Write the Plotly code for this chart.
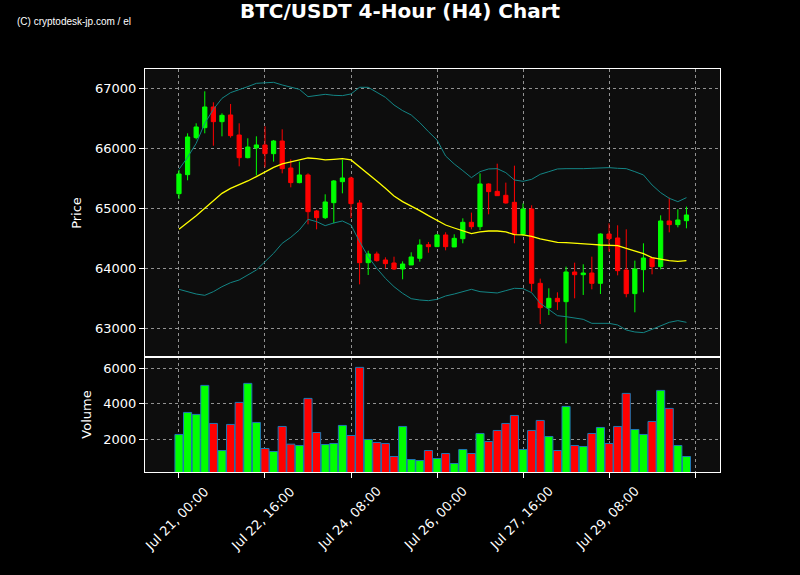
import plotly.graph_objects as go

idx = list(range(60))
opens = [65244, 65561, 66178, 66344, 66689, 66444, 66556, 66222, 65844, 66006,
         66056, 65911, 66122, 65672, 65428, 65556, 64956, 64844, 65094, 65444,
         65506, 65089, 64094, 64239, 64139, 64089, 63989, 64056, 64167, 64394,
         64361, 64556, 64356, 64494, 64767, 64694, 65406, 65283, 65217, 65100,
         64567, 64989, 63750, 63344, 63500, 63444, 63939, 63894, 63922, 63750,
         64572, 64506, 63972, 63578, 63978, 64172, 64028, 64789, 64728, 64794]
highs = [65639, 66250, 66417, 66950, 66767, 66583, 66739, 66417, 66167, 66200,
         66367, 66139, 66317, 65817, 65778, 65583, 64972, 65233, 65472, 65806,
         65528, 65139, 64294, 64278, 64183, 64194, 64117, 64267, 64483, 64439,
         64567, 64600, 64567, 64833, 64928, 65583, 65417, 65744, 65428, 65711,
         65083, 65050, 63828, 63667, 63600, 64028, 64094, 64067, 64194, 64583,
         64750, 64717, 64650, 64128, 64417, 64183, 64883, 65178, 64983, 65028]
lows = [65156, 65467, 66150, 66250, 66044, 66200, 66178, 65700, 65833, 65550,
        65683, 65778, 65583, 65350, 65417, 64733, 64650, 64822, 64750, 65250,
        64839, 63733, 63889, 64111, 64000, 63972, 63817, 64056, 64111, 64261,
        64361, 64300, 64356, 64417, 64650, 64639, 64900, 65206, 65078, 64417,
        64539, 63611, 63072, 63222, 63306, 62750, 63500, 63556, 63650, 63572,
        64278, 63883, 63517, 63267, 63600, 63900, 63983, 64600, 64683, 64667]
closes = [65572, 66189, 66356, 66689, 66444, 66550, 66211, 65844, 66022, 66056,
          65911, 66122, 65661, 65428, 65556, 64944, 64844, 65106, 65456, 65506,
          65078, 64094, 64239, 64128, 64078, 63989, 64072, 64189, 64389, 64361,
          64556, 64361, 64500, 64767, 64694, 65406, 65278, 65211, 65089, 64567,
          64989, 63750, 63344, 63500, 63444, 63939, 63894, 63922, 63750, 64572,
          64494, 63961, 63578, 63989, 64172, 64028, 64789, 64728, 64806, 64889]
volumes = [2282, 3521, 3409, 5042, 2901, 1380, 2845, 4085, 5155, 2958,
           1493, 1324, 2732, 1737, 1662, 4310, 2394, 1718, 1775, 2789,
           2225, 6056, 2000, 1831, 1775, 1042, 2732, 873, 817, 1380,
           930, 1211, 648, 1437, 1211, 2338, 1887, 2507, 2901, 3352,
           1437, 2507, 3070, 2169, 1380, 3859, 1662, 1606, 2338, 2676,
           1775, 2732, 4592, 2563, 2282, 3014, 4761, 3747, 1662, 1042]
ma20 = [64650, 64761, 64878, 65000, 65128, 65250, 65333, 65389, 65456, 65528,
        65600, 65683, 65739, 65772, 65806, 65839, 65828, 65806, 65817, 65828,
        65806, 65694, 65583, 65456, 65333, 65206, 65111, 65039, 64961, 64878,
        64806, 64722, 64672, 64622, 64578, 64606, 64622, 64622, 64606, 64561,
        64556, 64533, 64489, 64461, 64433, 64428, 64422, 64411, 64400, 64389,
        64383, 64378, 64333, 64294, 64244, 64178, 64150, 64128, 64117, 64128]
bb_upper = [65650, 65850, 66083, 66417, 66650, 66833, 66928, 66972, 67028, 67083,
            67094, 67100, 67056, 67017, 66983, 66861, 66878, 66900, 66883, 66878,
            66906, 67017, 67017, 66928, 66850, 66722, 66628, 66556, 66428, 66278,
            66139, 65872, 65739, 65628, 65511, 65611, 65656, 65661, 65594, 65472,
            65450, 65483, 65567, 65611, 65656, 65661, 65656, 65661, 65667, 65678,
            65678, 65667, 65661, 65611, 65556, 65389, 65261, 65167, 65111, 65178]
bb_lower = [63650, 63611, 63572, 63550, 63611, 63694, 63761, 63806, 63889, 63972,
            64111, 64250, 64417, 64517, 64639, 64817, 64778, 64711, 64756, 64789,
            64722, 64444, 64194, 64000, 63833, 63694, 63583, 63494, 63472, 63461,
            63483, 63539, 63572, 63611, 63650, 63611, 63594, 63589, 63628, 63667,
            63661, 63594, 63417, 63317, 63211, 63194, 63178, 63150, 63083, 63089,
            63083, 63056, 62972, 62939, 62928, 62983, 63044, 63100, 63128, 63100]
tick_pos = [0, 10, 20, 30, 40, 50, 60]
tick_labels = ["Jul 21, 00:00", "Jul 22, 16:00", "Jul 24, 08:00", "Jul 26, 00:00",
               "Jul 27, 16:00", "Jul 29, 08:00", ""]
price_ticks = [63000, 64000, 65000, 66000, 67000]
volume_ticks = [2000, 4000, 6000]

UP = "#00ff00"
DOWN = "#ff0000"
vol_colors = [UP if c >= o else DOWN for o, c in zip(opens, closes)]

fig = go.Figure()
fig.add_trace(go.Scatter(x=idx, y=bb_upper, mode="lines", line=dict(color="#138585", width=1),
                         xaxis="x2", yaxis="y2", hoverinfo="skip"))
fig.add_trace(go.Scatter(x=idx, y=bb_lower, mode="lines", line=dict(color="#138585", width=1),
                         xaxis="x2", yaxis="y2", hoverinfo="skip"))
fig.add_trace(go.Scatter(x=idx, y=ma20, mode="lines", line=dict(color="#ffff00", width=1.3),
                         xaxis="x2", yaxis="y2", hoverinfo="skip"))
fig.add_trace(go.Candlestick(
    x=idx, open=opens, high=highs, low=lows, close=closes,
    increasing=dict(line=dict(color=UP, width=1), fillcolor=UP),
    decreasing=dict(line=dict(color=DOWN, width=1), fillcolor=DOWN),
    whiskerwidth=0, xaxis="x2", yaxis="y2"))
fig.add_trace(go.Bar(x=idx, y=volumes, marker=dict(color=vol_colors, line=dict(color="#1f77b4", width=1)),
                     xaxis="x", yaxis="y"))

grid = dict(showgrid=True, gridcolor="rgba(190,190,190,0.75)", griddash="dot", gridwidth=1)
axline = dict(showline=True, linecolor="white", linewidth=1, mirror=True, zeroline=False)
tickfont = dict(family="DejaVu Sans", size=13, color="white")
xr = [-3.95, 62.9]
split = (472 - 357) / (472 - 69)

annotations = [dict(text="(C) cryptodesk-jp.com / el", xref="paper", yref="paper",
                    x=(15 - 145) / 575, y=1 + (69 - 22) / 403, xanchor="left", yanchor="middle",
                    showarrow=False,
                    font=dict(family="Liberation Sans", size=10, color="white"))]
for pos, lab in zip(tick_pos, tick_labels):
    if lab:
        annotations.append(dict(text=lab, x=pos, xref="x", y=0, yref="paper", xanchor="center",
                                yanchor="top", textangle=-45, showarrow=False, yshift=-9, xshift=-2,
                                font=tickfont))

fig.update_layout(
    width=800, height=575,
    paper_bgcolor="black", plot_bgcolor="#0d0d0d",
    margin=dict(l=145, r=80, t=69, b=103),
    showlegend=False,
    boxgap=0.3,
    bargap=0.06,
    title=dict(text="<b>BTC/USDT 4-Hour (H4) Chart</b>", x=0.5, xanchor="center",
               y=1 - 11 / 575, yanchor="middle",
               font=dict(family="DejaVu Sans", size=20, color="white")),
    xaxis=dict(domain=[0, 1], anchor="y", range=xr, tickvals=tick_pos, showticklabels=False,
               ticks="outside", ticklen=5, tickcolor="white",
               rangeslider=dict(visible=False), **grid, **axline),
    xaxis2=dict(domain=[0, 1], anchor="y2", range=xr, matches="x", tickvals=tick_pos,
                showticklabels=False, ticks="", rangeslider=dict(visible=False), **grid, **axline),
    yaxis=dict(domain=[0, split], anchor="x", range=[170, 6640], tickvals=volume_ticks,
               tickformat="d", ticks="outside", ticklen=5, tickcolor="white", tickfont=tickfont,
               title=dict(text="Volume", font=dict(family="DejaVu Sans", size=13, color="white"), standoff=8),
               **grid, **axline),
    yaxis2=dict(domain=[split, 1], anchor="x2", range=[62522, 67322], tickvals=price_ticks,
                tickformat="d", ticks="outside", ticklen=5, tickcolor="white", tickfont=tickfont,
                title=dict(text="Price", font=dict(family="DejaVu Sans", size=13, color="white"), standoff=10),
                **grid, **axline),
    annotations=annotations,
)

fig.write_html("out.html", config={"displayModeBar": False},
               post_script="document.body.style.margin='0';document.body.style.overflow='hidden';")
